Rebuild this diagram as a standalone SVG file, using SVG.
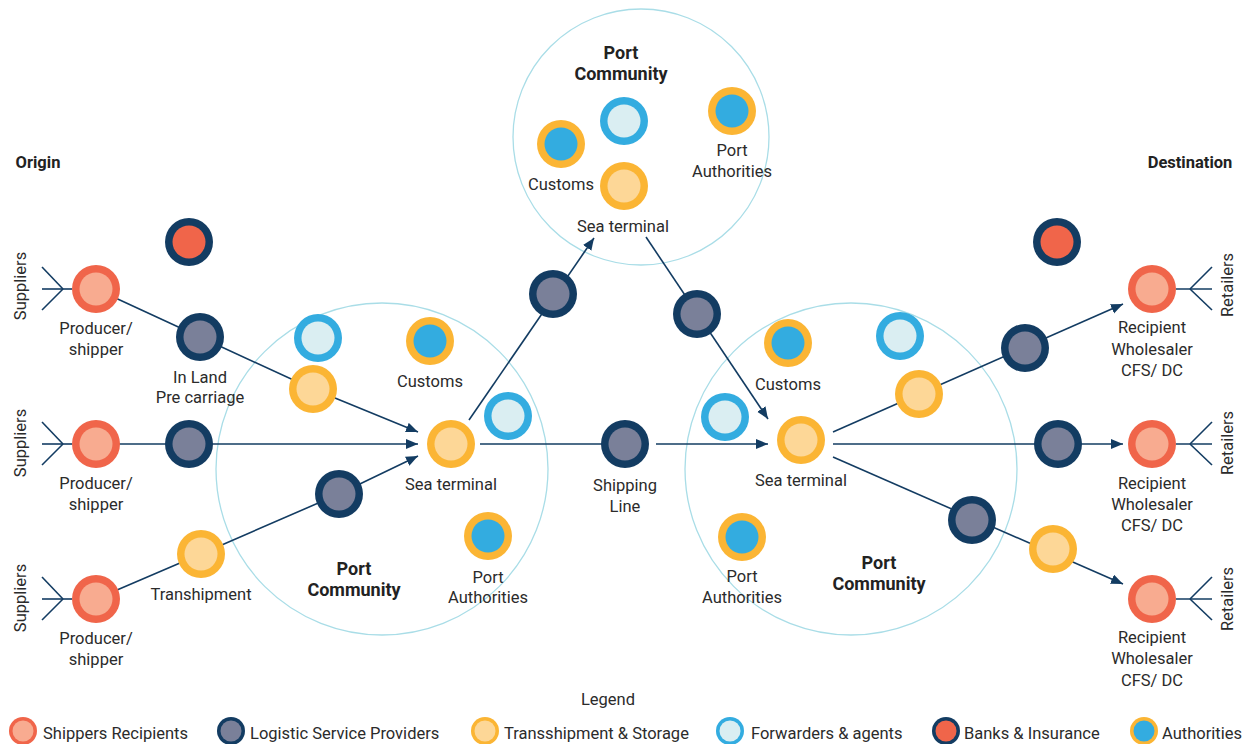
<svg xmlns="http://www.w3.org/2000/svg" width="1242" height="744" viewBox="0 0 1242 744">
<style>
.t{font-family:Roboto,"Liberation Sans",sans-serif;font-size:16.5px;fill:#2b2b2b;text-anchor:middle}
.tl{font-family:Roboto,"Liberation Sans",sans-serif;font-size:16.5px;fill:#2b2b2b;text-anchor:start}
.b{font-family:Roboto,"Liberation Sans",sans-serif;font-size:18px;font-weight:bold;fill:#222;text-anchor:middle}
.h{font-family:Roboto,"Liberation Sans",sans-serif;font-size:16.5px;font-weight:bold;fill:#222;text-anchor:middle}
.pc{fill:none;stroke:#A9DDE7;stroke-width:1.3}
.ln{fill:none;stroke:#133C62;stroke-width:1.6}
.ar{fill:none;stroke:#133C62;stroke-width:1.6;marker-end:url(#arrow)}
.sh-o{fill:#F0654A}.sh-i{fill:#F8AB90}
.lg-o{fill:#133C62}.lg-i{fill:#7A8099}
.ts-o{fill:#FBB534}.ts-i{fill:#FDD797}
.fw-o{fill:#33ACE0}.fw-i{fill:#DAEEF2}
.bk-o{fill:#133C62}.bk-i{fill:#F0654A}
.au-o{fill:#FBB534}.au-i{fill:#33ACE0}
</style>
<defs>
<marker id="arrow" markerUnits="userSpaceOnUse" markerWidth="13" markerHeight="11" refX="12" refY="5" orient="auto">
<path d="M0,0 L12,5 L0,10 z" fill="#133C62"/>
</marker>
</defs>
<rect width="1242" height="744" fill="#ffffff"/>

<g id="port-community-circles">
<circle class="pc" cx="641" cy="137" r="128"/>
<circle class="pc" cx="382" cy="469" r="166"/>
<circle class="pc" cx="851" cy="469" r="166"/>
</g>

<g id="connectors">
<line class="ln" x1="42" y1="267" x2="63" y2="289"/>
<line class="ln" x1="42" y1="289" x2="72" y2="289"/>
<line class="ln" x1="42" y1="310" x2="63" y2="289"/>
<line class="ln" x1="42" y1="422" x2="63" y2="444"/>
<line class="ln" x1="42" y1="444" x2="72" y2="444"/>
<line class="ln" x1="42" y1="465" x2="63" y2="444"/>
<line class="ln" x1="42" y1="577" x2="63" y2="599"/>
<line class="ln" x1="42" y1="599" x2="72" y2="599"/>
<line class="ln" x1="42" y1="620" x2="63" y2="599"/>
<line class="ln" x1="1176" y1="289" x2="1212" y2="289"/>
<line class="ln" x1="1190" y1="289" x2="1212" y2="267"/>
<line class="ln" x1="1190" y1="289" x2="1212" y2="310"/>
<line class="ln" x1="1176" y1="444" x2="1212" y2="444"/>
<line class="ln" x1="1190" y1="444" x2="1212" y2="422"/>
<line class="ln" x1="1190" y1="444" x2="1212" y2="465"/>
<line class="ln" x1="1176" y1="599" x2="1212" y2="599"/>
<line class="ln" x1="1190" y1="599" x2="1212" y2="577"/>
<line class="ln" x1="1190" y1="599" x2="1212" y2="620"/>
<polyline class="ar" points="96,289 200,337 313,389 418,432"/>
<line class="ar" x1="96" y1="444" x2="418" y2="444"/>
<polyline class="ar" points="96,599 201,554 339,494 418,456"/>
<line class="ar" x1="469" y1="420" x2="594" y2="238"/>
<line class="ar" x1="646" y1="237" x2="768" y2="419"/>
<line class="ln" x1="480" y1="444" x2="625" y2="444"/>
<line class="ar" x1="656" y1="444" x2="768" y2="444"/>
<line class="ar" x1="833" y1="432" x2="1123" y2="304"/>
<line class="ar" x1="833" y1="444" x2="1123" y2="444"/>
<line class="ar" x1="833" y1="457" x2="1123" y2="584"/>
</g>

<text class="h" x="38" y="168">Origin</text>
<text class="h" x="1190" y="168">Destination</text>
<text class="t" transform="translate(26,286) rotate(-90)">Suppliers</text>
<text class="t" transform="translate(26,443) rotate(-90)">Suppliers</text>
<text class="t" transform="translate(26,598) rotate(-90)">Suppliers</text>
<text class="t" transform="translate(1233,285) rotate(-90)">Retailers</text>
<text class="t" transform="translate(1233,443) rotate(-90)">Retailers</text>
<text class="t" transform="translate(1233,599) rotate(-90)">Retailers</text>

<g id="producer-1"><circle class="sh-o" cx="96" cy="289" r="24"/><circle class="sh-i" cx="96" cy="289" r="16.5"/><text class="t" x="96" y="334">Producer/</text><text class="t" x="96" y="355">shipper</text></g>
<g id="producer-2"><circle class="sh-o" cx="96" cy="444" r="24"/><circle class="sh-i" cx="96" cy="444" r="16.5"/><text class="t" x="96" y="489">Producer/</text><text class="t" x="96" y="510">shipper</text></g>
<g id="producer-3"><circle class="sh-o" cx="96" cy="599" r="24"/><circle class="sh-i" cx="96" cy="599" r="16.5"/><text class="t" x="96" y="644">Producer/</text><text class="t" x="96" y="665">shipper</text></g>

<g id="bank-left"><circle class="bk-o" cx="189" cy="242" r="24"/><circle class="bk-i" cx="189" cy="242" r="16.5"/></g>
<g id="inland"><circle class="lg-o" cx="200" cy="337" r="24"/><circle class="lg-i" cx="200" cy="337" r="16.5"/><text class="t" x="200" y="383">In Land</text><text class="t" x="200" y="403">Pre carriage</text></g>
<g id="lsp-row2"><circle class="lg-o" cx="189" cy="444" r="24"/><circle class="lg-i" cx="189" cy="444" r="16.5"/></g>
<g id="transhipment"><circle class="ts-o" cx="201" cy="554" r="24"/><circle class="ts-i" cx="201" cy="554" r="16.5"/><text class="t" x="201" y="600">Transhipment</text></g>

<g id="left-forwarder-1"><circle class="fw-o" cx="318" cy="338" r="24"/><circle class="fw-i" cx="318" cy="338" r="16.5"/></g>
<g id="left-storage"><circle class="ts-o" cx="313" cy="389" r="24"/><circle class="ts-i" cx="313" cy="389" r="16.5"/></g>
<g id="left-customs"><circle class="au-o" cx="430" cy="341" r="24"/><circle class="au-i" cx="430" cy="341" r="16.5"/><text class="t" x="430" y="387">Customs</text></g>
<g id="left-sea-terminal"><circle class="ts-o" cx="451" cy="444" r="24"/><circle class="ts-i" cx="451" cy="444" r="16.5"/><text class="t" x="451" y="490">Sea terminal</text></g>
<g id="left-forwarder-2"><circle class="fw-o" cx="508" cy="416" r="24"/><circle class="fw-i" cx="508" cy="416" r="16.5"/></g>
<g id="left-lsp"><circle class="lg-o" cx="339" cy="494" r="24"/><circle class="lg-i" cx="339" cy="494" r="16.5"/></g>
<g id="left-port-authorities"><circle class="au-o" cx="488" cy="536" r="24"/><circle class="au-i" cx="488" cy="536" r="16.5"/><text class="t" x="488" y="583">Port</text><text class="t" x="488" y="603">Authorities</text></g>
<g id="left-port-community"><text class="b" x="354" y="575">Port</text><text class="b" x="354" y="596">Community</text></g>

<g id="top-port-community"><text class="b" x="621" y="59">Port</text><text class="b" x="621" y="80">Community</text></g>
<g id="top-forwarder"><circle class="fw-o" cx="624" cy="121" r="24"/><circle class="fw-i" cx="624" cy="121" r="16.5"/></g>
<g id="top-customs"><circle class="au-o" cx="561" cy="144" r="24"/><circle class="au-i" cx="561" cy="144" r="16.5"/><text class="t" x="561" y="190">Customs</text></g>
<g id="top-sea-terminal"><circle class="ts-o" cx="624" cy="186" r="24"/><circle class="ts-i" cx="624" cy="186" r="16.5"/><text class="t" x="623" y="232">Sea terminal</text></g>
<g id="top-port-authorities"><circle class="au-o" cx="732" cy="111" r="24"/><circle class="au-i" cx="732" cy="111" r="16.5"/><text class="t" x="732" y="156">Port</text><text class="t" x="732" y="177">Authorities</text></g>
<g id="top-lsp-left"><circle class="lg-o" cx="553" cy="294" r="24"/><circle class="lg-i" cx="553" cy="294" r="16.5"/></g>
<g id="top-lsp-right"><circle class="lg-o" cx="697" cy="314" r="24"/><circle class="lg-i" cx="697" cy="314" r="16.5"/></g>

<g id="shipping-line"><circle class="lg-o" cx="625" cy="444" r="24"/><circle class="lg-i" cx="625" cy="444" r="16.5"/><text class="t" x="625" y="491">Shipping</text><text class="t" x="625" y="512">Line</text></g>

<g id="right-customs"><circle class="au-o" cx="788" cy="343" r="24"/><circle class="au-i" cx="788" cy="343" r="16.5"/><text class="t" x="788" y="390">Customs</text></g>
<g id="right-forwarder-1"><circle class="fw-o" cx="900" cy="336" r="24"/><circle class="fw-i" cx="900" cy="336" r="16.5"/></g>
<g id="right-forwarder-2"><circle class="fw-o" cx="725" cy="417" r="24"/><circle class="fw-i" cx="725" cy="417" r="16.5"/></g>
<g id="right-sea-terminal"><circle class="ts-o" cx="801" cy="440" r="24"/><circle class="ts-i" cx="801" cy="440" r="16.5"/><text class="t" x="801" y="486">Sea terminal</text></g>
<g id="right-storage"><circle class="ts-o" cx="919" cy="394" r="24"/><circle class="ts-i" cx="919" cy="394" r="16.5"/></g>
<g id="right-port-authorities"><circle class="au-o" cx="742" cy="537" r="24"/><circle class="au-i" cx="742" cy="537" r="16.5"/><text class="t" x="742" y="582">Port</text><text class="t" x="742" y="603">Authorities</text></g>
<g id="right-port-community"><text class="b" x="879" y="569">Port</text><text class="b" x="879" y="590">Community</text></g>
<g id="right-lsp-1"><circle class="lg-o" cx="1025" cy="348" r="24"/><circle class="lg-i" cx="1025" cy="348" r="16.5"/></g>
<g id="right-lsp-2"><circle class="lg-o" cx="1058" cy="444" r="24"/><circle class="lg-i" cx="1058" cy="444" r="16.5"/></g>
<g id="right-lsp-3"><circle class="lg-o" cx="972" cy="520" r="24"/><circle class="lg-i" cx="972" cy="520" r="16.5"/></g>
<g id="right-storage-2"><circle class="ts-o" cx="1053" cy="549" r="24"/><circle class="ts-i" cx="1053" cy="549" r="16.5"/></g>
<g id="bank-right"><circle class="bk-o" cx="1057" cy="242" r="24"/><circle class="bk-i" cx="1057" cy="242" r="16.5"/></g>

<g id="recipient-1"><circle class="sh-o" cx="1152" cy="289" r="24"/><circle class="sh-i" cx="1152" cy="289" r="16.5"/><text class="t" x="1152" y="333">Recipient</text><text class="t" x="1152" y="355">Wholesaler</text><text class="t" x="1152" y="376">CFS/ DC</text></g>
<g id="recipient-2"><circle class="sh-o" cx="1152" cy="444" r="24"/><circle class="sh-i" cx="1152" cy="444" r="16.5"/><text class="t" x="1152" y="489">Recipient</text><text class="t" x="1152" y="510">Wholesaler</text><text class="t" x="1152" y="531">CFS/ DC</text></g>
<g id="recipient-3"><circle class="sh-o" cx="1152" cy="599" r="24"/><circle class="sh-i" cx="1152" cy="599" r="16.5"/><text class="t" x="1152" y="643">Recipient</text><text class="t" x="1152" y="664">Wholesaler</text><text class="t" x="1152" y="686">CFS/ DC</text></g>

<g id="legend">
<text class="t" x="608" y="705">Legend</text>
<circle class="sh-o" cx="23" cy="731" r="14"/><circle class="sh-i" cx="23" cy="731" r="10.5"/><text class="tl" x="43" y="739">Shippers Recipients</text>
<circle class="lg-o" cx="231" cy="731" r="14"/><circle class="lg-i" cx="231" cy="731" r="10.5"/><text class="tl" x="250" y="739">Logistic Service Providers</text>
<circle class="ts-o" cx="485" cy="731" r="14"/><circle class="ts-i" cx="485" cy="731" r="10.5"/><text class="tl" x="504" y="739">Transshipment &amp; Storage</text>
<circle class="fw-o" cx="730" cy="731" r="14"/><circle class="fw-i" cx="730" cy="731" r="10.5"/><text class="tl" x="751" y="739">Forwarders &amp; agents</text>
<circle class="bk-o" cx="946" cy="731" r="14"/><circle class="bk-i" cx="946" cy="731" r="10.5"/><text class="tl" x="964" y="739">Banks &amp; Insurance</text>
<circle class="au-o" cx="1144" cy="731" r="14"/><circle class="au-i" cx="1144" cy="731" r="10.5"/><text class="tl" x="1162" y="739">Authorities</text>
</g>
</svg>
